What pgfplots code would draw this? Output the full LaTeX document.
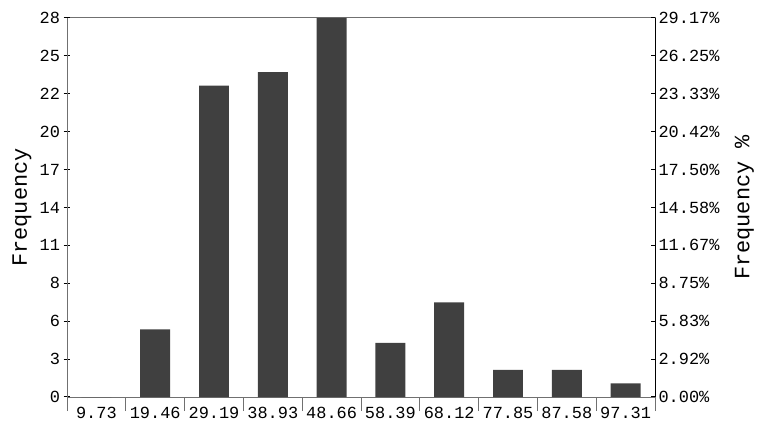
\documentclass[border=0pt]{standalone}
\usepackage{fontspec}
\setmainfont{Liberation Mono}
\usepackage{pgfplots}
\usepackage{pgfplotstable}
\pgfplotsset{compat=1.18}

\definecolor{barfill}{HTML}{404040}
\definecolor{axisgray}{HTML}{707070}

% class midpoints and counts (total 96)
\pgfplotstableread{
x    count
0.5  0
1.5  5
2.5  23
3.5  24
4.5  28
5.5  4
6.5  7
7.5  2
8.5  2
9.5  1
}\freq

\begin{document}
\begin{tikzpicture}
\pgfplotsset{
  base/.style={
    scale only axis, width=588bp, height=379bp,
    xmin=0, xmax=10,
    ticklabel style={font=\fontsize{17}{17}\selectfont},
    label style={font=\fontsize{22}{22}\selectfont},
    /pgf/number format/assume math mode=true,
  }
}
% bars and category axis
\begin{axis}[base,
    ymin=0, ymax=28, ytick=\empty,
    axis line style={axisgray, line width=1bp},
    xtick={0.5,1.5,2.5,3.5,4.5,5.5,6.5,7.5,8.5,9.5},
    xticklabels={9.73,19.46,29.19,38.93,48.66,58.39,68.12,77.85,87.58,97.31},
    minor xtick={0,1,2,3,4,5,6,7,8,9,10},
    major tick length=0pt, minor tick length=14bp,
    tick align=outside, xtick pos=bottom,
    tick style={axisgray, line width=1bp},
    xticklabel style={yshift=-7bp},
  ]
  \addplot[ybar, bar width=0.51, fill=barfill, draw=none] table[x=x, y=count] {\freq};
\end{axis}
% left count axis
\begin{axis}[base,
    ymin=0, ymax=28,
    axis x line=none, axis y line*=left,
    axis line style={-, axisgray, line width=1bp},
    ytick={0,2.8,5.6,8.4,11.2,14,16.8,19.6,22.4,25.2,28},
    yticklabels={0,3,6,8,11,14,17,20,22,25,28},
    tick align=center, major tick length=7bp,
    tick style={black, line width=1bp},
    ylabel={Frequency},
    ylabel style={at={(axis description cs:-0.0765,0.5)}, anchor=center},
  ]
\end{axis}
% right percentage axis
\begin{axis}[base,
    ymin=0, ymax=29.17,
    axis x line=none, axis y line*=right,
    axis line style={-, black, line width=1bp},
    ytick={0,2.917,5.833,8.75,11.667,14.583,17.5,20.417,23.333,26.25,29.17},
    yticklabels={0.00\%,2.92\%,5.83\%,8.75\%,11.67\%,14.58\%,17.50\%,20.42\%,23.33\%,26.25\%,29.17\%},
    tick align=inside, major tick length=4bp,
    tick style={black, line width=1bp},
    ylabel={Frequency \%},
    ylabel style={at={(axis description cs:1.152,0.5)}, anchor=center},
  ]
\end{axis}
\path ([shift={(-67bp,-30bp)}]current axis.south west)
  rectangle ([shift={(105bp,18bp)}]current axis.north east);
\end{tikzpicture}
\end{document}
